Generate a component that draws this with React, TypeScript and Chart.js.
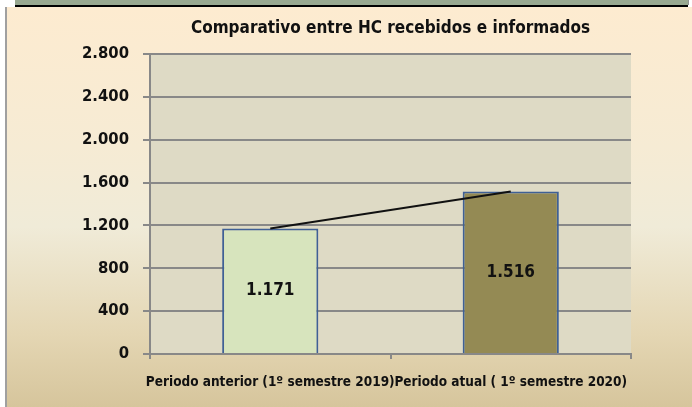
import React, { useEffect, useRef } from "react";
import { Chart, registerables } from "chart.js";

Chart.register(...registerables);

const titleText = "Comparativo entre HC recebidos e informados";
const categories = ["Periodo anterior (1º semestre 2019)", "Periodo atual ( 1º semestre 2020)"];
const values = [1171, 1516];
const barColors = ["#D7E4BD", "#948A54"];
const yMin = 0;
const yMax = 2800;
const yStep = 400;

const FONT = "'Liberation Sans Narrow', 'DejaVu Sans Condensed', 'Arial Narrow', sans-serif";

const fmt = (n: number) => String(Math.round(n)).replace(/\B(?=(\d{3})+(?!\d))/g, ".");

const plotBg = {
  id: "plotBg",
  beforeDraw(chart: any) {
    const { ctx, chartArea } = chart;
    ctx.save();
    ctx.fillStyle = "#DEDAC5";
    ctx.fillRect(chartArea.left, chartArea.top, chartArea.right - chartArea.left, chartArea.bottom - chartArea.top);
    ctx.restore();
  },
};

const barLabels = {
  id: "barLabels",
  afterDatasetsDraw(chart: any) {
    const { ctx } = chart;
    chart.data.datasets.forEach((ds: any, di: number) => {
      if (ds.type !== "bar") return;
      const meta = chart.getDatasetMeta(di);
      meta.data.forEach((el: any, i: number) => {
        ctx.save();
        ctx.font = `bold 17px ${FONT}`;
        ctx.fillStyle = "#111";
        ctx.textAlign = "center";
        ctx.textBaseline = "middle";
        ctx.fillText(fmt(ds.data[i]), el.x, (el.y + el.base) / 2);
        ctx.restore();
      });
    });
  },
};

export default function App() {
  const ref = useRef<HTMLCanvasElement | null>(null);

  useEffect(() => {
    document.body.style.margin = "0";
    const canvas = ref.current!;
    const chart = new Chart(canvas, {
      type: "bar",
      data: {
        labels: categories,
        datasets: [
          {
            type: "line",
            data: values,
            borderColor: "#111",
            borderWidth: 2,
            pointRadius: 0,
            fill: false,
            order: 0,
          } as any,
          {
            type: "bar",
            data: values,
            backgroundColor: barColors,
            borderColor: "#3F6095",
            borderWidth: 2,
            barPercentage: 0.4,
            categoryPercentage: 1,
            order: 1,
          } as any,
        ],
      },
      options: {
        animation: false,
        responsive: false,
        devicePixelRatio: 1,
        layout: { padding: { left: 0, right: 61, top: 0, bottom: 0 } },
        plugins: {
          legend: { display: false },
          tooltip: { enabled: false },
          title: {
            display: true,
            text: titleText,
            fullSize: false,
            color: "#111",
            font: { family: FONT, size: 17, weight: "bold" },
            padding: { top: 18, bottom: 15.6 },
          },
        },
        scales: {
          x: {
            offset: true,
            grid: {
              offset: true,
              drawOnChartArea: false,
              drawTicks: true,
              tickLength: 5,
              color: "#888888",
              lineWidth: 2,
            },
            border: { color: "#888888", width: 2 },
            ticks: {
              autoSkip: false,
              maxRotation: 0,
              minRotation: 0,
              color: "#111",
              font: { family: FONT, size: 13.5, weight: "bold" },
              padding: 15,
            },
            afterFit: (s: any) => {
              s.height = 53;
            },
          },
          y: {
            min: yMin,
            max: yMax,
            ticks: {
              stepSize: yStep,
              color: "#111",
              font: { family: FONT, size: 16.5, weight: "bold" },
              padding: 14,
              callback: (v: any) => fmt(Number(v)),
            },
            grid: { color: "#888888", lineWidth: 2, tickLength: 7, drawTicks: true },
            border: { color: "#888888", width: 2 },
            afterFit: (s: any) => {
              s.width = 150;
            },
          },
        },
      },
      plugins: [plotBg, barLabels],
    });
    return () => chart.destroy();
  }, []);

  return (
    <div
      style={{
        position: "relative",
        width: 692,
        height: 407,
        overflow: "hidden",
        background: "#FFFFFF",
      }}
    >
      <div
        style={{
          position: "absolute",
          left: 7,
          top: 7,
          width: 685,
          height: 400,
          background: "linear-gradient(to bottom, #FDEBD0 0%, #F6EBD4 35%, #F0EBD8 55%, #E4D6B3 82%, #D6C59C 100%)",
        }}
      />
      <div style={{ position: "absolute", left: 5, top: 7, width: 2, height: 400, background: "#A0A0A0" }} />
      <div style={{ position: "absolute", left: 15, top: 0, width: 673, height: 5, background: "#98A890" }} />
      <div style={{ position: "absolute", left: 688, top: 0, width: 1, height: 5, background: "#909090" }} />
      <div style={{ position: "absolute", left: 15, top: 5, width: 673, height: 2, background: "#000" }} />
      <canvas
        ref={ref}
        width={692}
        height={407}
        style={{ position: "absolute", left: 0, top: 0, width: 692, height: 407 }}
      />
    </div>
  );
}
